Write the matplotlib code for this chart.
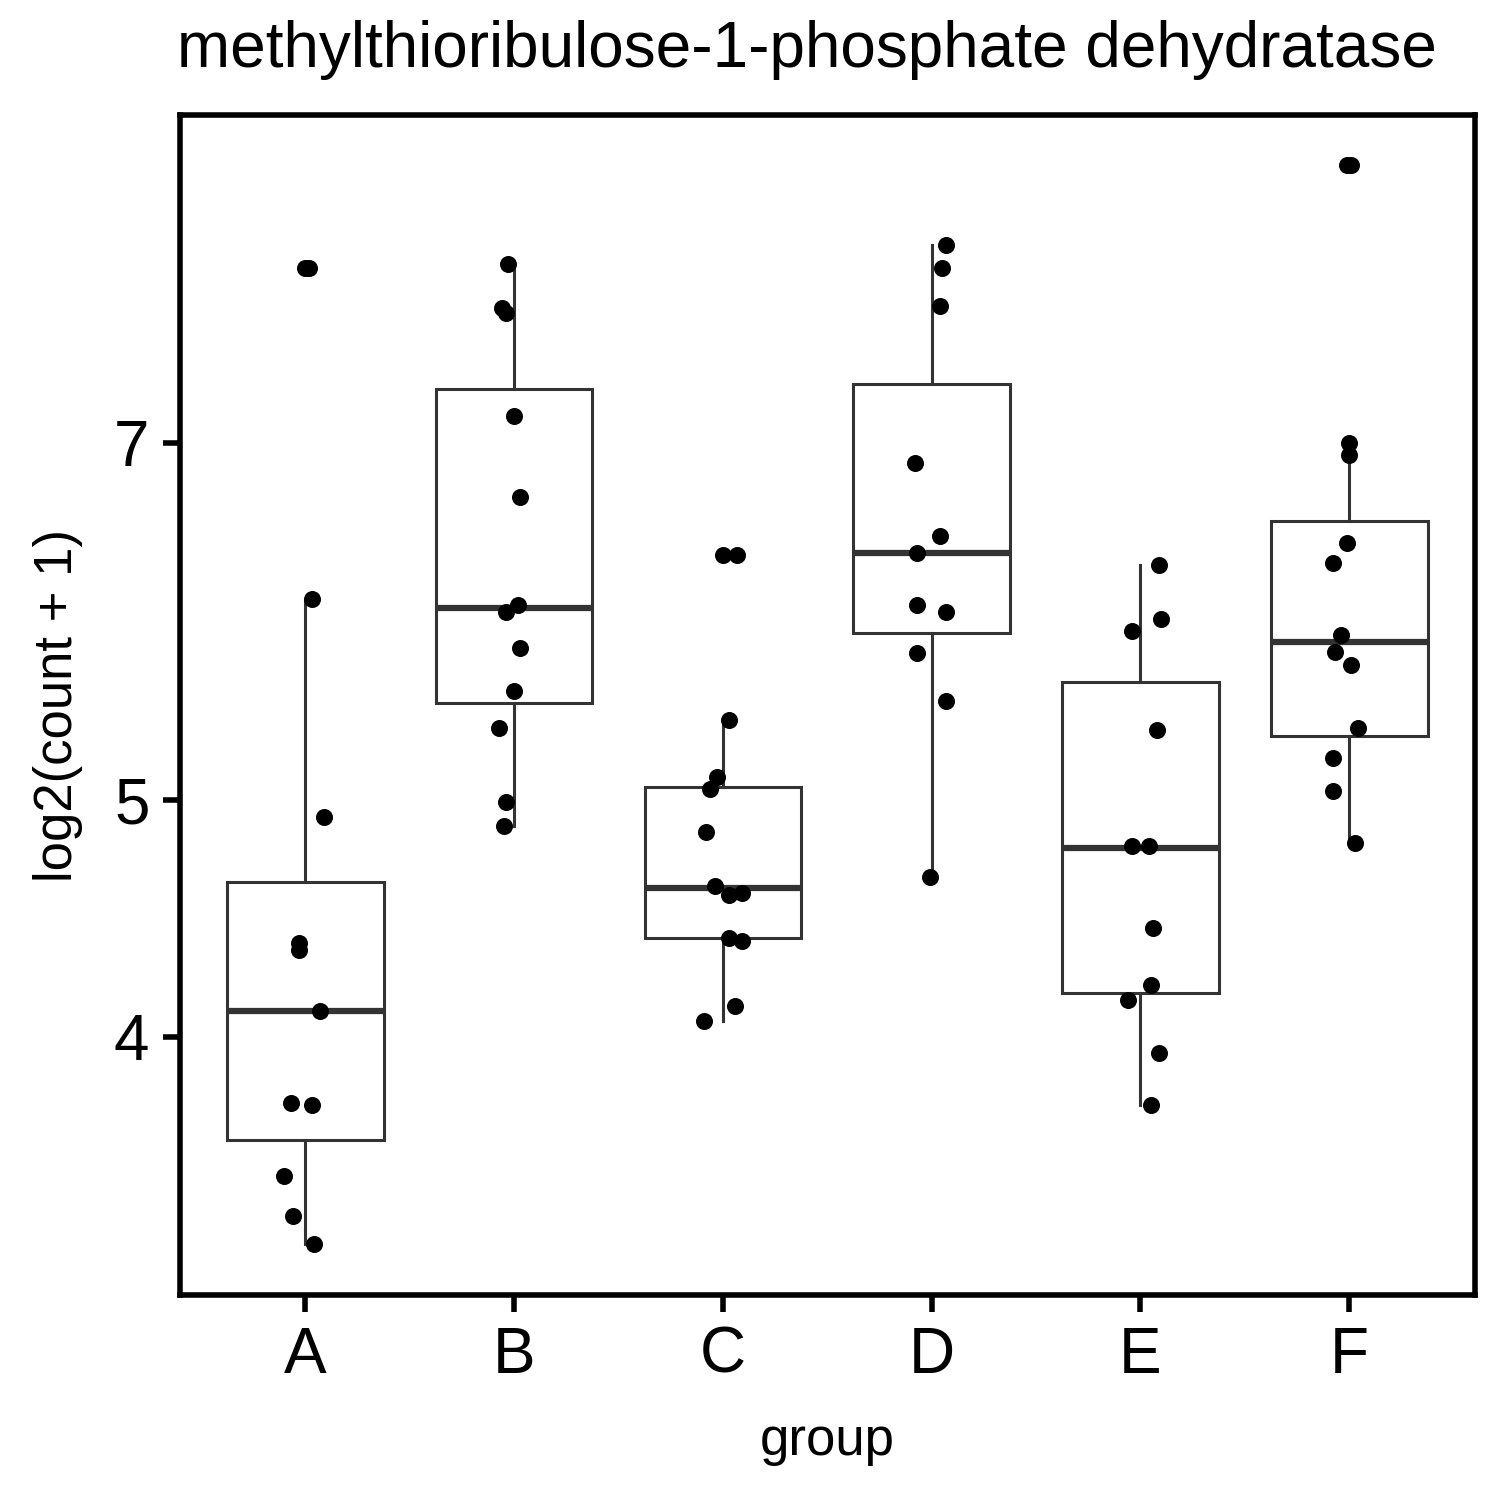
import numpy as np
import matplotlib
matplotlib.use("Agg")
import matplotlib.pyplot as plt

plt.rcParams['font.family'] = ['Liberation Sans', 'DejaVu Sans']

groups = ["A", "B", "C", "D", "E", "F"]
values = {
    "A": [8.25, 8.25, 6.04, 4.92, 4.37, 4.34, 4.10, 3.76, 3.75, 3.51, 3.38, 3.29],
    "B": [8.28, 7.95, 7.91, 7.18, 6.65, 6.01, 5.97, 5.77, 5.54, 5.35, 4.99, 4.88],
    "C": [6.30, 6.30, 5.39, 5.11, 5.05, 4.85, 4.61, 4.58, 4.57, 4.39, 4.38, 4.12, 4.06],
    "D": [8.43, 8.25, 7.96, 6.87, 6.41, 6.31, 6.01, 5.97, 5.74, 5.49, 4.65],
    "E": [6.24, 5.93, 5.86, 5.34, 4.79, 4.79, 4.43, 4.20, 4.14, 3.94, 3.75],
    "F": [9.09, 9.09, 7.00, 6.92, 6.37, 6.25, 5.84, 5.75, 5.68, 5.35, 5.20, 5.04, 4.80],
}
# horizontal jitter (in group units)
jitter = {
    "A": [0.00, 0.02, 0.03, 0.09, -0.03, -0.03, 0.07, -0.07, 0.03, -0.10, -0.06, 0.04],
    "B": [-0.03, -0.06, -0.04, 0.00, 0.03, 0.02, -0.04, 0.03, 0.00, -0.07, -0.04, -0.05],
    "C": [0.00, 0.07, 0.03, -0.03, -0.06, -0.08, -0.04, 0.09, 0.03, 0.03, 0.09, 0.06, -0.09],
    "D": [0.07, 0.05, 0.04, -0.08, 0.04, -0.07, -0.07, 0.07, -0.07, 0.07, -0.01],
    "E": [0.09, 0.10, -0.04, 0.08, -0.04, 0.04, 0.06, 0.05, -0.06, 0.09, 0.05],
    "F": [-0.01, 0.01, 0.00, 0.00, -0.01, -0.08, -0.04, -0.07, 0.01, 0.04, -0.08, -0.08, 0.03],
}
# box statistics (computed on the log scale in the original)
q1 = [3.63, 5.48, 4.39, 5.85, 4.17, 5.31]
med = [4.10, 5.99, 4.60, 6.31, 4.78, 5.80]
q3 = [4.63, 7.36, 5.06, 7.40, 5.59, 6.50]
whislo = [3.29, 4.88, 4.06, 4.65, 3.75, 4.80]
whishi = [6.04, 8.28, 5.39, 8.43, 6.24, 7.00]

fig = plt.figure(figsize=(15, 15), dpi=100)
ax = fig.add_axes([0.12, 0.1367, 0.863, 0.7866])
ax.set_yscale("log", base=2)

pos = np.arange(1, len(groups) + 1)
stats = [dict(q1=q1[i], med=med[i], q3=q3[i], whislo=whislo[i], whishi=whishi[i],
              fliers=[], label=g) for i, g in enumerate(groups)]
ax.bxp(stats, positions=pos, widths=0.75, showfliers=False, patch_artist=True,
       boxprops=dict(facecolor="white", edgecolor="#333333", linewidth=2.2),
       whiskerprops=dict(color="#333333", linewidth=2.2),
       capprops=dict(linewidth=0),
       medianprops=dict(color="#333333", linewidth=4.5), zorder=1)

for i, g in enumerate(groups):
    x = pos[i] + np.array(jitter[g])
    ax.scatter(x, values[g], s=150, color="black", zorder=3, linewidths=0)

ax.set_xlim(0.4, 6.6)
ax.set_ylim(3.137, 9.53)
ax.set_xticks(pos)
ax.set_xticklabels(groups)
ax.set_yticks([4, 5, 7])
ax.set_yticklabels(["4", "5", "7"])
ax.yaxis.set_minor_locator(matplotlib.ticker.NullLocator())
ax.tick_params(axis="both", labelsize=46, width=4, length=12, color="black", labelcolor="black", pad=10)
for s in ax.spines.values():
    s.set_linewidth(4)
ax.set_xlabel("group", fontsize=38, labelpad=22)
ax.set_ylabel("log2(count + 1)", fontsize=38, labelpad=22)
fig.text(0.118, 0.947, "methylthioribulose-1-phosphate dehydratase", fontsize=46, ha="left", va="bottom")

fig.savefig("out.png", dpi=100)
